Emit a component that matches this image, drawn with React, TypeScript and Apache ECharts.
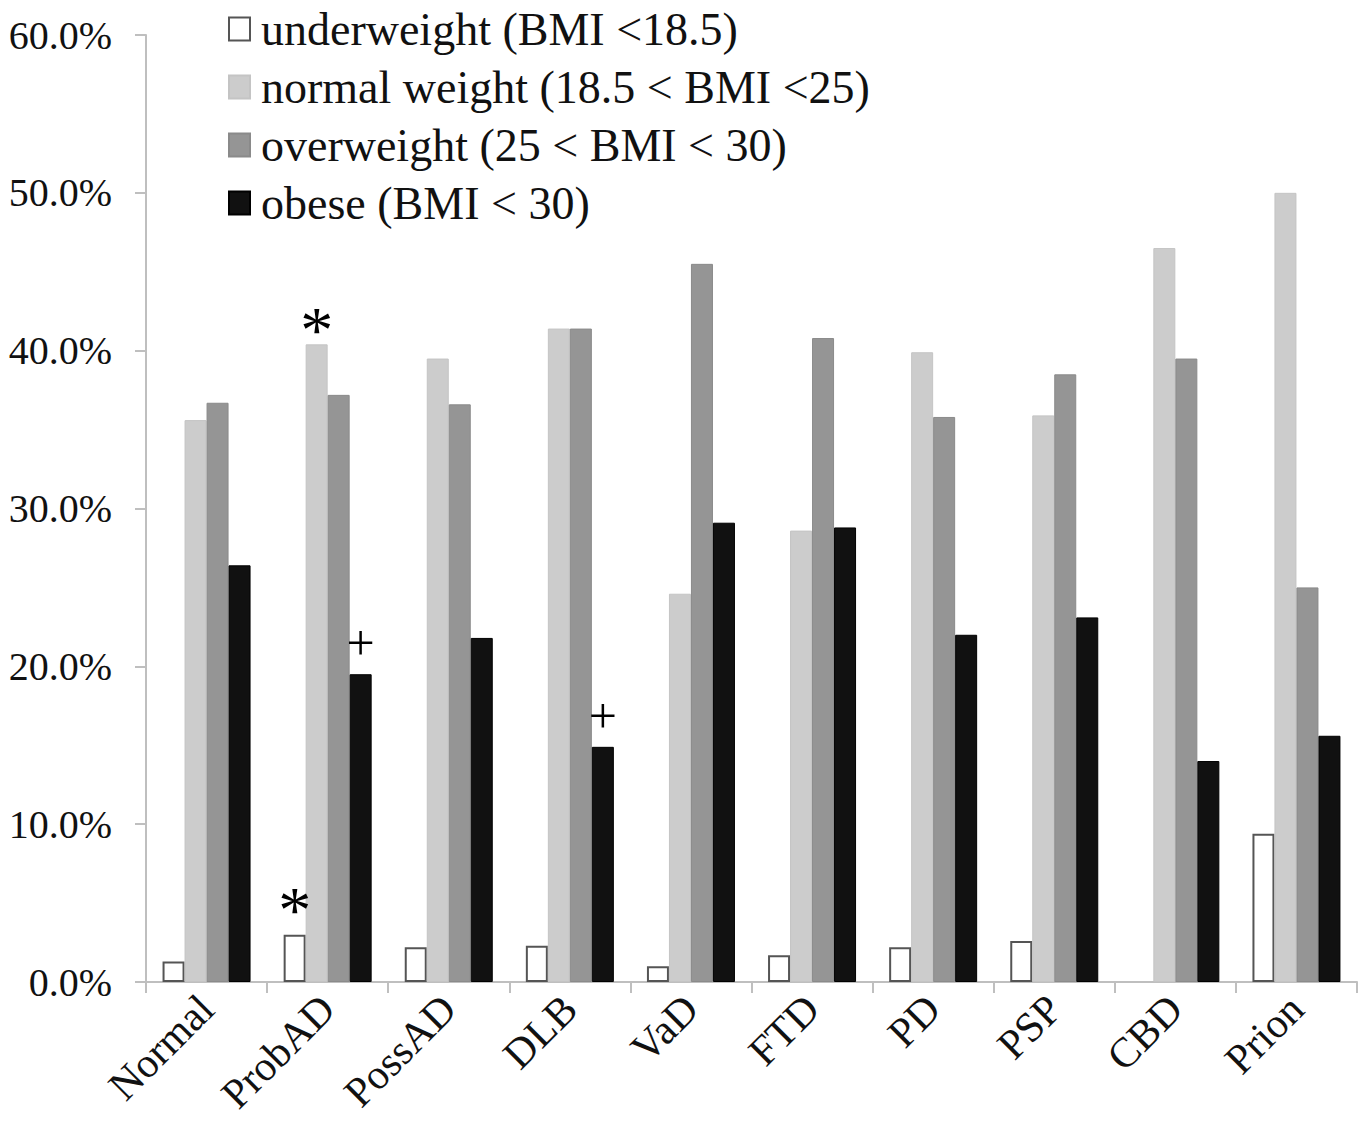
import React, { useEffect, useRef } from "react";
import * as echarts from "echarts";

const categories = ["Normal", "ProbAD", "PossAD", "DLB", "VaD", "FTD", "PD", "PSP", "CBD", "Prion"];
const seriesNames = [
  "underweight (BMI <18.5)",
  "normal weight (18.5 < BMI <25)",
  "overweight (25 < BMI < 30)",
  "obese (BMI < 30)",
];
const underweight = [1.3, 3.0, 2.2, 2.3, 1.0, 1.7, 2.2, 2.6, 0, 9.4];
const normalWeight = [35.6, 40.4, 39.5, 41.4, 24.6, 28.6, 39.9, 35.9, 46.5, 50.0];
const overweight = [36.7, 37.2, 36.6, 41.4, 45.5, 40.8, 35.8, 38.5, 39.5, 25.0];
const obese = [26.4, 19.5, 21.8, 14.9, 29.1, 28.8, 22.0, 23.1, 14.0, 15.6];
// significance marks
const underweightMarks = ["", "*", "", "", "", "", "", "", "", ""];
const normalMarks = ["", "*", "", "", "", "", "", "", "", ""];
const obeseMarks = ["", "+", "", "+", "", "", "", "", "", ""];
const yTicks = { min: 0, max: 60, interval: 10 };

const FONT = "'Liberation Serif', 'Times New Roman', serif";

function withMarks(values: number[], marks: string[] | null, fontSize: number, distance: number) {
  return values.map((v, i) => {
    const m = marks ? marks[i] : "";
    const item: any = { value: v };
    if (v === 0) item.itemStyle = { borderWidth: 0, opacity: 0 };
    if (m) {
      item.label = {
        show: true,
        position: "top",
        formatter: m,
        fontFamily: FONT,
        fontSize,
        color: "#000",
        distance,
      };
    }
    return item;
  });
}

export default function App() {
  const ref = useRef<HTMLDivElement>(null);
  useEffect(() => {
    if (!ref.current) return;
    const chart = echarts.init(ref.current, null, { renderer: "svg" });
    const barW = 22;
    chart.setOption({
      animation: false,
      backgroundColor: "#ffffff",
      grid: {
        left: 146,
        right: 3,
        top: 35,
        bottom: 139,
        containLabel: false,
        outerBoundsMode: "none",
      },
      legend: {
        orient: "vertical",
        left: 223,
        top: 1,
        itemWidth: 21,
        itemHeight: 23,
        itemGap: 12,
        icon: "rect",
        textStyle: { fontFamily: FONT, fontSize: 46, color: "#111", lineHeight: 46, padding: [0, 0, 0, 6] },
        data: seriesNames,
      },
      xAxis: {
        type: "category",
        data: categories,
        axisLine: { lineStyle: { color: "#bfbfbf", width: 2 } },
        axisTick: { show: true, length: 11, lineStyle: { color: "#bfbfbf", width: 2 } },
        axisLabel: {
          rotate: 45,
          margin: 20,
          fontFamily: FONT,
          fontSize: 42,
          color: "#111",
          interval: 0,
        },
      },
      yAxis: {
        type: "value",
        min: yTicks.min,
        max: yTicks.max,
        interval: yTicks.interval,
        splitLine: { show: false },
        axisLine: { show: true, lineStyle: { color: "#bfbfbf", width: 2 } },
        axisTick: { show: true, length: 11, lineStyle: { color: "#bfbfbf", width: 2 } },
        axisLabel: {
          margin: 34,
          fontFamily: FONT,
          fontSize: 40,
          color: "#111",
          formatter: (v: number) => v.toFixed(1) + "%",
        },
      },
      series: [
        {
          name: seriesNames[0],
          type: "bar",
          barWidth: barW,
          barGap: "0%",
          itemStyle: { color: "#ffffff", borderColor: "#555555", borderWidth: 2 },
          data: withMarks(underweight, underweightMarks, 66, -8),
        },
        {
          name: seriesNames[1],
          type: "bar",
          barWidth: barW,
          barGap: "0%",
          itemStyle: { color: "#cccccc", borderColor: "#c4c4c4", borderWidth: 1 },
          data: withMarks(normalWeight, normalMarks, 66, -18),
        },
        {
          name: seriesNames[2],
          type: "bar",
          barWidth: barW,
          barGap: "0%",
          itemStyle: { color: "#959595", borderColor: "#8a8a8a", borderWidth: 1 },
          data: withMarks(overweight, null, 58, 2),
        },
        {
          name: seriesNames[3],
          type: "bar",
          barWidth: barW,
          barGap: "0%",
          itemStyle: { color: "#111111", borderColor: "#000000", borderWidth: 1 },
          data: withMarks(obese, obeseMarks, 50, 6),
        },
      ],
    });
    return () => chart.dispose();
  }, []);
  return (
    <div
      ref={ref}
      style={{ position: "fixed", left: 0, top: 0, width: 1360, height: 1121, background: "#fff" }}
    />
  );
}
